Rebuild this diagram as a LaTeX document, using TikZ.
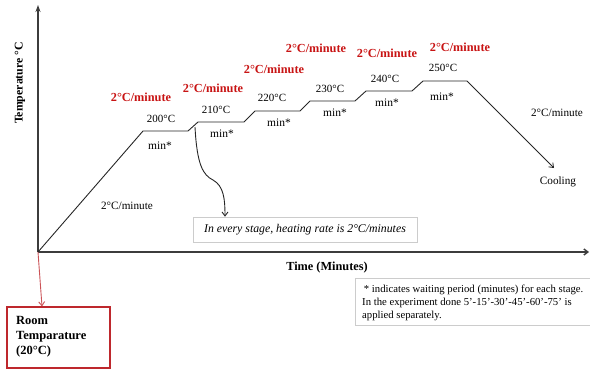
\documentclass[tikz,border=0pt]{standalone}
\usepackage{fontspec}
\setmainfont{Liberation Serif}
\usetikzlibrary{arrows.meta}
\definecolor{rateRed}{RGB}{200,20,20}
\definecolor{boxRed}{RGB}{190,40,45}
\definecolor{axisGray}{RGB}{60,60,60}
\tikzset{
  axis/.style={draw=axisGray, line width=1.4pt},
  profile/.style={draw=black!85, line width=0.9pt},
  rate/.style={text=rateRed, font=\fontsize{12.3}{14}\selectfont\bfseries, inner sep=0pt},
  temp/.style={font=\fontsize{11}{12}\selectfont, inner sep=0pt},
  waitlbl/.style={font=\fontsize{11.5}{12}\selectfont, inner sep=0pt},
  plain/.style={font=\fontsize{11.2}{13}\selectfont, inner sep=0pt},
  notebox/.style={draw=black!20, line width=0.6pt, fill=white},
}
\begin{document}
\begin{tikzpicture}[x=1pt, y=-1pt]
  \useasboundingbox (0,0) rectangle (590,372);

  % axes
  \coordinate (O) at (38,252);
  \coordinate (ytop) at (38,5);
  \coordinate (xend) at (589,252);
  \draw[axis, -{Stealth[length=7pt,width=5pt]}] (O) -- (ytop);
  \draw[axis, -{Straight Barb[length=4pt,width=6pt]}] (O) -- (xend);

  % heating profile: ramp, then six holding stages
  \coordinate (p1) at (143,131);
  \coordinate (p2) at (188,131);
  \coordinate (p3) at (198,122);
  \coordinate (p4) at (244,122);
  \coordinate (p5) at (255,111);
  \coordinate (p6) at (300,111);
  \coordinate (p7) at (310,101);
  \coordinate (p8) at (355,101);
  \coordinate (p9) at (366,91);
  \coordinate (p10) at (412,91);
  \coordinate (p11) at (423,81);
  \coordinate (p12) at (467,81);
  \coordinate (cool) at (554,168);
  \draw[profile] (O) -- (p1) -- (p2) -- (p3) -- (p4) -- (p5) -- (p6) -- (p7)
        -- (p8) -- (p9) -- (p10) -- (p11) -- (p12);
  \draw[profile, line width=0.8pt, -{Straight Barb[length=4pt,width=6pt]}] (p12) -- (cool);

  % heating rates (red)
  \node[rate] (r1) at (141,97) {2°C/minute};
  \node[rate] (r2) at (213,88) {2°C/minute};
  \node[rate] (r3) at (274,69) {2°C/minute};
  \node[rate] (r4) at (316,48) {2°C/minute};
  \node[rate] (r5) at (387,53) {2°C/minute};
  \node[rate] (r6) at (460,47) {2°C/minute};

  % stage temperatures
  \node[temp] (t1) at (161,119) {200°C};
  \node[temp] (t2) at (216,110) {210°C};
  \node[temp] (t3) at (272,98) {220°C};
  \node[temp] (t4) at (330,89) {230°C};
  \node[temp] (t5) at (385,79) {240°C};
  \node[temp] (t6) at (443,68) {250°C};

  % waiting periods
  \node[waitlbl] (w1) at (160,146) {min*};
  \node[waitlbl] (w2) at (222,134) {min*};
  \node[waitlbl] (w3) at (279,123) {min*};
  \node[waitlbl] (w4) at (335,113) {min*};
  \node[waitlbl] (w5) at (387,103) {min*};
  \node[waitlbl] (w6) at (442,97) {min*};

  % black labels
  \node[plain] (rampRate) at (127,206) {2°C/minute};
  \node[plain] (coolRate) at (557,113) {2°C/minute};
  \node[plain] (cooling) at (558,182) {Cooling};

  % axis titles
  \node[font=\fontsize{11.8}{13}\selectfont\bfseries, rotate=90, inner sep=0pt] (ylab) at (20,83) {Temperature °C};
  \node[font=\fontsize{12.3}{14}\selectfont\bfseries, inner sep=0pt] (xlab) at (327,268) {Time (Minutes)};

  % remark on heating rate
  \node[notebox, minimum width=224pt, minimum height=25pt, font=\fontsize{11.8}{13}\selectfont\itshape, inner sep=0pt] (remark) at (305,229.5) {In every stage, heating rate is 2°C/minutes};
  \coordinate (stageStart) at (195,127);
  \draw[black!85, line width=0.9pt, -{Straight Barb[length=4pt,width=6pt]}]
    (stageStart) .. controls (197,165) and (203,175) .. (213,180)
    .. controls (224,186) and (225,200) .. (remark.north -| 225,0);

  % footnote on waiting periods
  \node[notebox, minimum width=235pt, minimum height=47pt, inner sep=0pt] (note) at (472.5,301.5) {};
  \node[anchor=west, font=\fontsize{10.7}{13}\selectfont, inner sep=0pt, align=left] (noteText) at (362,303)
    {\,* indicates waiting period (minutes) for each stage.\\In the experiment done 5'-15'-30'-45'-60'-75' is\\applied separately.};

  % room temperature callout
  \node[draw=boxRed, line width=1.1pt, minimum width=103pt, minimum height=61pt, inner sep=0pt] (room) at (58.5,337.5) {};
  \node[anchor=west, font=\fontsize{12.5}{15}\selectfont\bfseries, align=left, inner sep=0pt] (roomText) at (16,337)
    {Room\\Temparature\\(20°C)};
  \draw[boxRed!80, line width=0.9pt, -{Straight Barb[length=4pt,width=6pt]}] (O) -- (room.north -| 42,0);
\end{tikzpicture}
\end{document}
